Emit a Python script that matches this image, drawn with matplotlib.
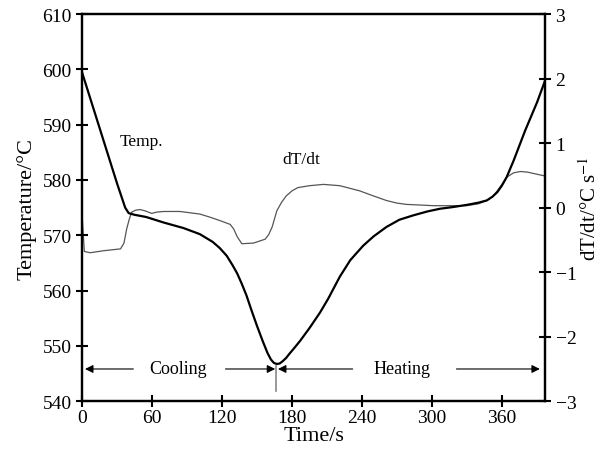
import numpy as np
import matplotlib.pyplot as plt

plt.rcParams['font.family'] = ['Liberation Serif', 'DejaVu Serif']
plt.rcParams['mathtext.fontset'] = 'stix'

# temperature curve (left axis)
t_temp = [0, 10, 20, 30, 37, 40, 45, 55, 70, 87, 101, 112, 118, 124, 129, 133,
          137, 141, 145, 150, 155, 159, 162, 164.5, 167, 169.5, 172, 175, 178,
          182, 187, 195, 204, 211, 221, 230, 241, 250, 261, 272, 284, 296, 307,
          318, 330, 340, 347, 352, 356, 360, 364, 370, 380, 390, 397]
temp = [599.5, 592.8, 586.1, 579.4, 575.0, 574.0, 573.7, 573.3, 572.3, 571.3,
        570.2, 568.8, 567.7, 566.3, 564.6, 563.1, 561.2, 559.1, 556.6, 553.6,
        550.8, 548.7, 547.5, 546.9, 546.7, 546.8, 547.2, 547.8, 548.6, 549.6,
        550.9, 553.2, 556.0, 558.5, 562.5, 565.5, 568.1, 569.8, 571.5, 572.8,
        573.6, 574.3, 574.8, 575.1, 575.5, 575.9, 576.3, 577.0, 577.8, 579.0,
        580.5, 583.5, 589.0, 594.0, 598.0]

# cooling rate curve (right axis)
t_rate = [0, 2, 7, 18, 33, 36, 38.3, 40.5, 42.6, 46, 49.7, 54, 59.7, 64, 70, 84,
          101, 110, 118, 127, 130, 133, 137, 147, 157, 160, 163, 167, 171, 175,
          180, 185, 195, 207, 221, 238, 250, 261, 270, 278, 290, 301, 315, 330,
          340, 347, 352, 356, 360, 364, 370, 376, 382, 387, 392, 397]
rate = [-0.1, -0.68, -0.70, -0.67, -0.64, -0.55, -0.33, -0.18, -0.07, -0.04,
        -0.03, -0.05, -0.09, -0.07, -0.06, -0.06, -0.10, -0.15, -0.20, -0.26,
        -0.33, -0.45, -0.56, -0.55, -0.49, -0.42, -0.30, -0.05, 0.08, 0.18,
        0.26, 0.31, 0.34, 0.36, 0.34, 0.26, 0.18, 0.11, 0.07, 0.05, 0.04, 0.03,
        0.03, 0.03, 0.06, 0.11, 0.17, 0.26, 0.36, 0.47, 0.54, 0.56, 0.55, 0.53,
        0.51, 0.49]

xticks = [0, 60, 120, 180, 240, 300, 360]

fig = plt.figure(figsize=(6.03, 4.60), dpi=100)
ax = fig.add_axes([0.136, 0.126, 0.768, 0.841])
ax2 = ax.twinx()

ax2.plot(t_rate, rate, color='#555555', lw=0.9)
ax.plot(t_temp, temp, color='black', lw=1.6, zorder=5)
ax.set_zorder(ax2.get_zorder() + 1)
ax.patch.set_visible(False)

ax.set_xlim(0, 397)
ax.set_ylim(540, 610)
ax2.set_ylim(-3, 3)
ax.set_xticks(xticks)
ax.set_yticks(np.arange(540, 611, 10))
ax2.set_yticks(np.arange(-3, 4, 1))

for a in (ax, ax2):
    for s in a.spines.values():
        s.set_linewidth(1.6)
    a.tick_params(direction='inout', length=8, width=1.5, labelsize=14)
ax.tick_params(axis='y', right=False)
ax.tick_params(axis='x', pad=2)

ax.set_xlabel('Time/s', fontsize=16, labelpad=0)
ax.set_ylabel('Temperature/\u00b0C', fontsize=16, labelpad=4)
ax2.set_ylabel('dT/dt/\u00b0C s$^{-1}$', fontsize=15, labelpad=2)

ax.text(32.5, 587, 'Temp.', fontsize=12.5, va='center', ha='left')
ax.text(171.5, 583.8, 'dT/dt', fontsize=12.5, va='center', ha='left')

ya = 545.8
arr = dict(arrowstyle='-|>', color='black', lw=0.8, mutation_scale=12,
           shrinkA=0, shrinkB=0)
ax.annotate('', xy=(2.6, ya), xytext=(44, ya), arrowprops=arr)
ax.annotate('', xy=(165.6, ya), xytext=(123, ya), arrowprops=arr)
ax.annotate('', xy=(168, ya), xytext=(232, ya), arrowprops=arr)
ax.annotate('', xy=(392.5, ya), xytext=(321, ya), arrowprops=arr)
ax.text(82, ya, 'Cooling', fontsize=13, ha='center', va='center')
ax.text(274, ya, 'Heating', fontsize=13, ha='center', va='center')
ax.plot([166.5, 166.5], [541.8, 546.4], color='#888888', lw=1.2)

fig.savefig('out.png', dpi=100)
